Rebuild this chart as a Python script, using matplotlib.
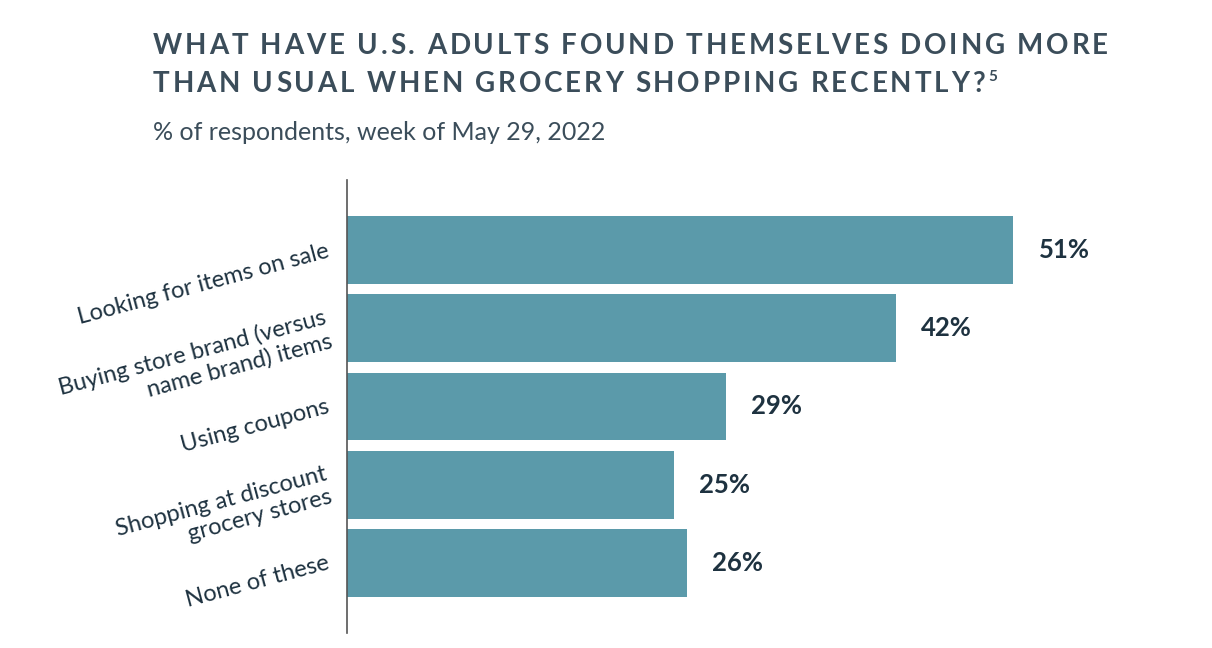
import matplotlib
matplotlib.use("Agg")
import matplotlib.pyplot as plt
from matplotlib.font_manager import FontProperties

# Данные графика
categories = [
    "Looking for items on sale",
    "Buying store brand (versus\nname brand) items",
    "Using coupons",
    "Shopping at discount\ngrocery stores",
    "None of these",
]
values = [51, 42, 29, 25, 26]
value_labels = ["51%", "42%", "29%", "25%", "26%"]

title_lines = [
    "WHAT HAVE U.S. ADULTS FOUND THEMSELVES DOING MORE",
    "THAN USUAL WHEN GROCERY SHOPPING RECENTLY?",
]
footnote_mark = "5"
subtitle = "% of respondents, week of May 29, 2022"

plt.rcParams["font.family"] = ["Lato", "DejaVu Sans"]

bar_color = "#5b9aaa"
title_color = "#3b4d5a"
text_color = "#1e3240"

W, H = 1212, 648
fig = plt.figure(figsize=(W / 100, H / 100), dpi=100)
ax = fig.add_axes([347 / W, 1 - 633 / H, 1 - 347 / W, (633 - 180) / H])

positions = list(range(len(categories)))
ax.barh(positions, values, height=0.87, color=bar_color)
ax.set_ylim(4.9, -0.9)
ax.set_xlim(0, (W - 347) / 13.06)

# Подписи значений справа от столбцов
for pos, val, lab in zip(positions, values, value_labels):
    ax.text(val + 1.95, pos, lab, va="center", ha="left", fontsize=18.5,
            fontweight="bold", color=text_color)

ax.set_yticks(positions)
ax.set_yticklabels(categories, rotation=15, ha="right", va="center",
                   rotation_mode="anchor", fontsize=17, color=text_color,
                   multialignment="right", linespacing=1.15)
ax.tick_params(axis="y", length=0, pad=13)
ax.set_xticks([])

for side in ["top", "right", "bottom"]:
    ax.spines[side].set_visible(False)
ax.spines["left"].set_color("#555555")
ax.spines["left"].set_linewidth(1.2)

renderer = fig.canvas.get_renderer()


def char_width(ch, prop):
    """Ширина символа в пикселях (пробел меряем через разницу)."""
    if ch == " ":
        w1, _, _ = renderer.get_text_width_height_descent("x x", prop, ismath=False)
        w2, _, _ = renderer.get_text_width_height_descent("xx", prop, ismath=False)
        return w1 - w2
    w, _, _ = renderer.get_text_width_height_descent(ch, prop, ismath=False)
    return w


def fit_tracking(text, prop, width_px):
    raw = sum(char_width(c, prop) for c in text)
    return (width_px - raw) / (len(text) - 1)


def draw_tracked(x_px, y_px, text, prop, tracking):
    """Рисует строку посимвольно с разрядкой, возвращает конечный x."""
    x = x_px
    for ch in text:
        if ch != " ":
            fig.text(x / W, 1 - y_px / H, ch, fontproperties=prop,
                     color=title_color, va="baseline", ha="left")
        x += char_width(ch, prop) + tracking
    return x - tracking


title_prop = FontProperties(family="Lato", weight="bold", size=20)
# Одинаковая разрядка для обеих строк заголовка
tracking = fit_tracking(title_lines[0], title_prop, 955)
draw_tracked(153, 54, title_lines[0], title_prop, tracking)
end_x = draw_tracked(153, 92, title_lines[1], title_prop, tracking)
sup_prop = FontProperties(family="Lato", weight="bold", size=11)
fig.text((end_x + 4) / W, 1 - 81 / H, footnote_mark,
         fontproperties=sup_prop, color=title_color, va="baseline", ha="left")

fig.text(153 / W, 1 - 133 / H, subtitle, fontsize=18, color=title_color,
         va="center", ha="left")

fig.savefig("out.png", dpi=100)
